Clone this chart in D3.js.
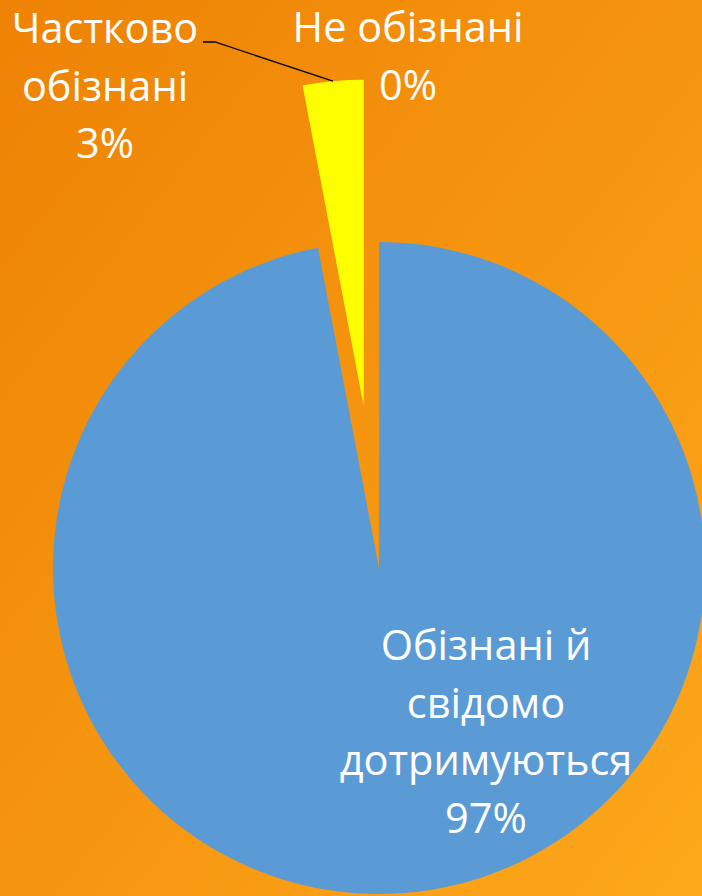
<!DOCTYPE html>
<html>
<head>
<meta charset="utf-8">
<script src="https://cdn.jsdelivr.net/npm/d3@7"></script>
<style>
    html, body { margin: 0; padding: 0; overflow: hidden; }
    svg { display: block; }
</style>
</head>
<body>
<div id="pieChart"></div>
<script>
// Chart data
const categories = ['Обізнані й свідомо дотримуються', 'Частково обізнані', 'Не обізнані'];
const values = [97, 3, 0];
const sliceColors = ['#5B9BD5', '#FFFF00', '#A5A5A5'];
const explode = [0, 0.5, 0];

// Label lines, as shown on the chart
const labelLines = [
    ['Обізнані й', 'свідомо', 'дотримуються', '97%'],
    ['Частково', 'обізнані', '3%'],
    ['Не обізнані', '0%']
];

const width = 702;
const height = 896;
const radius = 326;
const cx = 379, cy = 568;

const svg = d3.select('#pieChart')
    .append('svg')
    .attr('width', width)
    .attr('height', height);

// Orange background gradient
const grad = svg.append('defs')
    .append('linearGradient')
    .attr('id', 'bg')
    .attr('x1', '0%').attr('y1', '0%')
    .attr('x2', '100%').attr('y2', '100%');
grad.append('stop').attr('offset', '0%').attr('stop-color', '#EE8204');
grad.append('stop').attr('offset', '100%').attr('stop-color', '#FDA81B');

svg.append('rect')
    .attr('width', width)
    .attr('height', height)
    .attr('fill', 'url(#bg)');

const pie = d3.pie().sort(null).value(d => d.value);
const arc = d3.arc().innerRadius(0).outerRadius(radius);

const slices = pie(categories.map((c, i) => ({ name: c, value: values[i], i })));

const g = svg.append('g')
    .attr('transform', `translate(${cx},${cy})`);

// offset of an exploded slice along its middle angle
function offset(d) {
    const a = (d.startAngle + d.endAngle) / 2;
    const r = explode[d.data.i] * radius;
    return [Math.sin(a) * r, -Math.cos(a) * r];
}

g.selectAll('.slice')
    .data(slices.filter(d => d.value > 0))
    .enter()
    .append('path')
    .attr('class', 'slice')
    .attr('transform', d => `translate(${offset(d)})`)
    .attr('d', arc)
    .attr('fill', d => sliceColors[d.data.i]);

// Leader line to the small slice
const yellow = slices[1];
const [ox, oy] = offset(yellow);
const mid = (yellow.startAngle + yellow.endAngle) / 2;
const tipX = cx + ox + Math.sin(mid) * radius;
const tipY = cy + oy - Math.cos(mid) * radius;
svg.append('path')
    .attr('d', `M203,42 L215,42 L${tipX},${tipY}`)
    .attr('fill', 'none')
    .attr('stroke', '#000')
    .attr('stroke-width', 1.3);

// Data labels
const labelPos = [[486, 660], [105, 43], [408, 42]];
const lineHeight = 57.5;

svg.selectAll('.label')
    .data(labelLines)
    .enter()
    .append('text')
    .attr('class', 'label')
    .attr('text-anchor', 'middle')
    .attr('fill', '#fff')
    .style('font-family', '"Open Sans", sans-serif')
    .style('font-size', '41.5px')
    .each(function(lines, i) {
        d3.select(this).selectAll('tspan')
            .data(lines)
            .enter()
            .append('tspan')
            .attr('x', labelPos[i][0])
            .attr('y', (l, j) => labelPos[i][1] + j * lineHeight)
            .text(l => l);
    });
</script>
</body>
</html>
